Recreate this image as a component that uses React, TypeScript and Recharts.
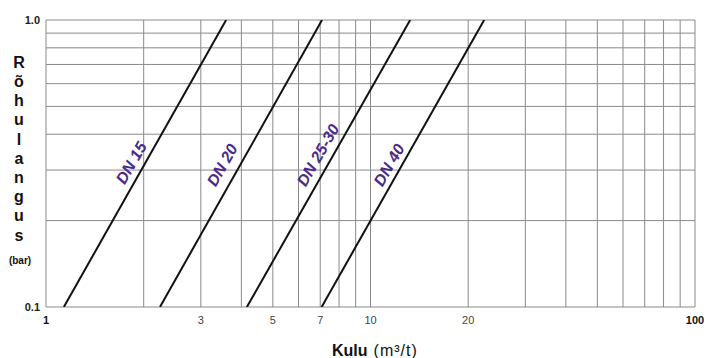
import React from "react";
import { LineChart, Line, XAxis, YAxis, ReferenceLine, ReferenceDot } from "recharts";

// Flow (m3/h) at 0.1 bar and 1.0 bar for each valve size
const dn15 = [
  { q: 1.135, p: 0.1 },
  { q: 3.59, p: 1.0 },
];
const dn20 = [
  { q: 2.245, p: 0.1 },
  { q: 7.09, p: 1.0 },
];
const dn2530 = [
  { q: 4.16, p: 0.1 },
  { q: 13.25, p: 1.0 },
];
const dn40 = [
  { q: 7.07, p: 0.1 },
  { q: 22.4, p: 1.0 },
];

const seriesNames = ["DN 15", "DN 20", "DN 25-30", "DN 40"];
const seriesData = [dn15, dn20, dn2530, dn40];
// label anchors (data coords)
const labelQ = [1.83, 3.49, 6.89, 11.4];
const labelP = [0.318, 0.3126, 0.3385, 0.3126];

const xTicks = [1, 3, 5, 7, 10, 20, 100];
const boldXTicks = [1, 100];
const yTicks = [0.1, 1];
const yTickLabels = ["0.1", "1.0"];
const xGrid = [1, 2, 3, 4, 5, 6, 7, 8, 9, 10, 20, 30, 40, 50, 60, 70, 80, 90, 100];
const yGrid = [0.1, 0.2, 0.3, 0.4, 0.5, 0.6, 0.7, 0.8, 0.9, 1.0];

const yTitleLetters = ["R", "õ", "h", "u", "l", "a", "n", "g", "u", "s"];

const FONT = "'Liberation Sans', Arial, sans-serif";
const LABEL_COLOR = "#4a2b8c";

const XTick = (props: any) => {
  const { x, y, payload } = props;
  const bold = boldXTicks.includes(payload.value);
  return (
    <text
      x={x}
      y={y + 1}
      dy="0.71em"
      textAnchor="middle"
      fontFamily={FONT}
      fontSize={11}
      fontWeight={bold ? "bold" : "normal"}
      fill={bold ? "#111" : "#444"}
    >
      {payload.value}
    </text>
  );
};

const YTick = (props: any) => {
  const { x, y, payload } = props;
  const idx = yTicks.indexOf(payload.value);
  return (
    <text
      x={x + 2}
      y={y}
      dy="0.355em"
      textAnchor="end"
      fontFamily={FONT}
      fontSize={11}
      fontWeight="bold"
      fill="#222"
    >
      {idx >= 0 ? yTickLabels[idx] : payload.value}
    </text>
  );
};

const YTitle = () => (
  <g>
    {yTitleLetters.map((ch, i) => (
      <text
        key={i}
        x={19}
        y={62 + i * 19.2}
        dy="0.36em"
        textAnchor="middle"
        fontFamily={FONT}
        fontSize={16}
        fontWeight="bold"
        fill="#111"
      >
        {ch}
      </text>
    ))}
    <text
      x={20}
      y={260}
      dy="0.36em"
      textAnchor="middle"
      fontFamily={FONT}
      fontSize={10}
      fontWeight="bold"
      fill="#111"
    >
      (bar)
    </text>
  </g>
);

const XTitle = () => (
  <text x={332} y={356} fontFamily={FONT} fontSize={16} fill="#111">
    <tspan fontWeight="bold">Kulu</tspan>
    <tspan dx={6} letterSpacing={1}>(m³/t)</tspan>
  </text>
);

const makeLabelShape = (name: string) => (props: any) => {
  const { cx, cy } = props;
  return (
    <text
      x={cx}
      y={cy}
      dy="0.35em"
      textAnchor="middle"
      transform={`rotate(-60, ${cx}, ${cy})`}
      fontFamily={FONT}
      fontSize={16}
      fontWeight="bold"
      fontStyle="italic"
      fill={LABEL_COLOR}
    >
      {name}
    </text>
  );
};

export default function App() {
  return (
    <div style={{ position: "absolute", left: 0, top: 0, background: "#fff" }}>
      <LineChart width={707} height={358} margin={{ top: 20, right: 12, bottom: 0, left: 0 }}>
        <XAxis
          dataKey="q"
          type="number"
          scale="log"
          domain={[1, 100]}
          ticks={xTicks}
          interval={0}
          allowDataOverflow
          axisLine={false}
          tickLine={false}
          height={51}
          tick={XTick}
          label={{ content: XTitle }}
        />
        <YAxis
          dataKey="p"
          type="number"
          scale="log"
          domain={[0.1, 1]}
          ticks={yTicks}
          interval={0}
          allowDataOverflow
          axisLine={false}
          tickLine={false}
          width={46}
          tick={YTick}
          label={{ content: YTitle }}
        />
        {yGrid.map((v) => (
          <ReferenceLine key={"y" + v} y={v} stroke="#8a8a8a" strokeWidth={1} ifOverflow="extendDomain" />
        ))}
        {xGrid.map((v) => (
          <ReferenceLine key={"x" + v} x={v} stroke="#8a8a8a" strokeWidth={1} ifOverflow="extendDomain" />
        ))}
        {seriesData.map((d, i) => (
          <Line
            key={seriesNames[i]}
            data={d}
            dataKey="p"
            stroke="#111"
            strokeWidth={2}
            dot={false}
            activeDot={false}
            isAnimationActive={false}
          />
        ))}
        {seriesNames.map((n, i) => (
          <ReferenceDot
            key={"lbl" + n}
            x={labelQ[i]}
            y={labelP[i]}
            r={0}
            shape={makeLabelShape(n)}
          />
        ))}
      </LineChart>
    </div>
  );
}
